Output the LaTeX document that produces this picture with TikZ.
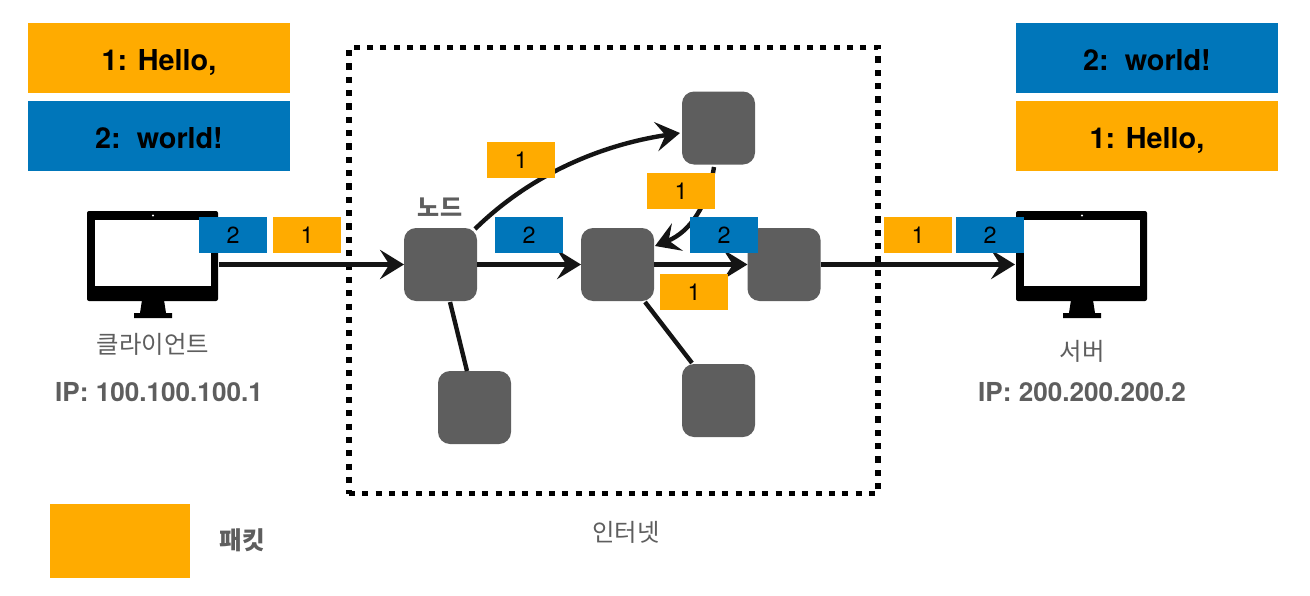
\documentclass[tikz,border=0pt]{standalone}
\usepackage{fontspec}
\setmainfont{TeX Gyre Heros}
\newfontfamily\cjk{Noto Sans CJK KR}
\usetikzlibrary{arrows.meta}
\definecolor{pkto}{HTML}{FFAB00}
\definecolor{pktb}{HTML}{0076BA}
\definecolor{nodeg}{HTML}{5E5E5E}
\definecolor{txtg}{HTML}{5E5E5E}
\tikzset{
  x=0.75pt,y=-0.75pt,
  netnode/.style={draw=none,fill=nodeg,rounded corners=9pt,minimum width=54.75pt,minimum height=54.75pt,inner sep=0pt,outer sep=0pt},
  pkt/.style={minimum width=51pt,minimum height=27pt,inner sep=0pt,outer sep=0pt,font=\fontsize{17.5pt}{18pt}\selectfont,text=black},
  big/.style={minimum width=196.5pt,minimum height=52.5pt,inner sep=0pt,outer sep=0pt,text height=18pt,text depth=0pt,font=\bfseries\fontsize{21.6pt}{24pt}\selectfont,text=black},
  orange/.style={fill=pkto},
  blue/.style={fill=pktb},
  link/.style={line width=3.3pt,black!92},
  flow/.style={link,-{Stealth[length=18pt,width=22pt,inset=7pt]}},
  lbl/.style={text=txtg,inner sep=0pt,font=\cjk\fontsize{18.3pt}{20pt}\selectfont},
  ip/.style={text=txtg,inner sep=0pt,font=\bfseries\fontsize{19.6pt}{21pt}\selectfont},
  monitor/.style={fill=black,rounded corners=1.5pt,minimum width=98.25pt,minimum height=67.5pt,inner sep=0pt,outer sep=0pt},
}
\newcommand{\monitorparts}[2]{%
  \fill[white] (#1-58,#2-36) rectangle (#1+58,#2+30);
  \fill[white] (#1,#2-40.5) circle[radius=1.1];
  \fill[black] (#1-11,#2+44) -- (#1+11,#2+44) -- (#1+13,#2+57) -- (#1+19,#2+57) -- (#1+19,#2+62) -- (#1-19,#2+62) -- (#1-19,#2+57) -- (#1-13,#2+57) -- cycle;
}
\begin{document}
\begin{tikzpicture}
\useasboundingbox (0,0) rectangle (1310,596);
% internet box
\node[draw=black,line width=4pt,dash pattern=on 4.6pt off 5.4pt,minimum width=396.75pt,minimum height=334.5pt,inner sep=0pt,fill=none] (inet) at (613.5,270.5) {};
% monitors
\node[monitor] (cli) at (152.5,256) {};
\node[monitor] (srv) at (1081.5,256) {};
\monitorparts{153}{256}
\monitorparts{1082}{256}
% network nodes
\node[netnode] (n1) at (440.5,264.5) {};
\node[netnode] (n2) at (617.5,264.5) {};
\node[netnode] (n3) at (784,264.5) {};
\node[netnode] (n4) at (718.5,128) {};
\node[netnode] (n5) at (474.5,407.5) {};
\node[netnode] (n6) at (718.5,400.5) {};
% connectors
\coordinate (c1) at (219,264.5);
\coordinate (c2) at (475,229);
\coordinate (c3) at (680,133);
\coordinate (c4) at (714,167);
\coordinate (c5) at (655,246);
\coordinate (c6) at (1015,264.5);
\draw[flow] (c1) -- (n1.west);
\draw[flow] (n1.east) -- (n2.west);
\draw[flow] (n2.east) -- (n3.west);
\draw[flow] (n3.east) -- (c6);
\draw[flow] (c2) .. controls (530,175) and (600,145) .. (c3);
\draw[flow] (c4) .. controls (708,205) and (690,232) .. (c5);
\draw[link] (450,302) -- (467,371);
\draw[link] (645,302) -- (692,363);
% big packets
\node[big,orange] (a1) at (159,58) {1: Hello,};
\node[big,blue] (a2) at (159,136) {2:\ \ world!};
\node[big,blue] (b2) at (1147,58) {2:\ \ world!};
\node[big,orange] (b1) at (1147,136) {1: Hello,};
% small packets
\node[pkt,blue] (p1) at (233,235) {2};
\node[pkt,orange] (p2) at (307,235) {1};
\node[pkt,orange] (p3) at (521,160) {1};
\node[pkt,blue] (p4) at (529,235) {2};
\node[pkt,orange] (p5) at (681,191) {1};
\node[pkt,blue] (p6) at (724,235) {2};
\node[pkt,orange] (p7) at (694,292) {1};
\node[pkt,orange] (p8) at (918,235) {1};
\node[pkt,blue] (p9) at (990,235) {2};
% labels
\node[lbl] (t1) at (153,344) {클라이언트};
\node[ip] (t2) at (159,392) {IP: 100.100.100.1};
\node[lbl] (t3) at (1082,351) {서버};
\node[ip] (t4) at (1082,392) {IP: 200.200.200.2};
\node[lbl,font=\cjk\bfseries\fontsize{18pt}{20pt}\selectfont] (t5) at (440,207) {노드};
\node[lbl] (t6) at (626,532) {인터넷};
\node[fill=pkto,minimum width=105pt,minimum height=55.5pt,inner sep=0pt] (leg) at (120,541) {};
\node[lbl,font=\cjk\bfseries\fontsize{18.5pt}{20pt}\selectfont] (t7) at (242,540) {패킷};
\end{tikzpicture}
\end{document}
